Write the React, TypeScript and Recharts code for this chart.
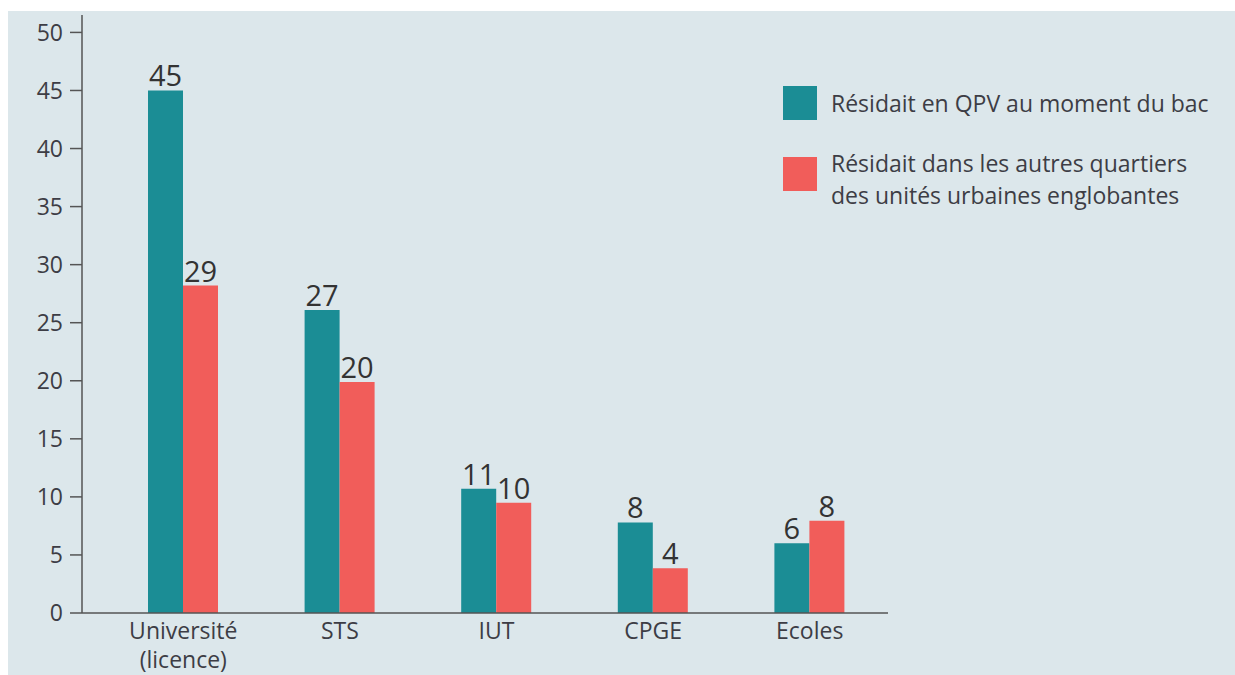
import React from "react";
import { BarChart, Bar, XAxis, YAxis, LabelList } from "recharts";

const categories = ["Université (licence)", "STS", "IUT", "CPGE", "Ecoles"];
const qpvValues = [45.0, 26.1, 10.7, 7.8, 6.0];
const autresValues = [28.2, 19.9, 9.5, 3.85, 7.95];
const qpvLabels = ["45", "27", "11", "8", "6"];
const autresLabels = ["29", "20", "10", "4", "8"];
const yTicks = [0, 5, 10, 15, 20, 25, 30, 35, 40, 45, 50];
const seriesNames = [
  "Résidait en QPV au moment du bac",
  "Résidait dans les autres quartiers des unités urbaines englobantes",
];
const legendLines = [
  ["Résidait en QPV au moment du bac"],
  ["Résidait dans les autres quartiers", "des unités urbaines englobantes"],
];

const TEAL = "#1b8d95";
const RED = "#f15d5a";
const FONT = "'Open Sans', Roboto, sans-serif";
const TEXT = "#3d3d45";

const data = categories.map((c, i) => ({
  name: c,
  qpv: qpvValues[i],
  autres: autresValues[i],
  qpvLabel: qpvLabels[i],
  autresLabel: autresLabels[i],
}));

const XTick = (props: any) => {
  const { x, y, payload } = props;
  const text: string = payload.value;
  const lines = text === "Université (licence)" ? ["Université", "(licence)"] : [text];
  return (
    <g>
      {lines.map((l, i) => (
        <text
          key={i}
          x={x}
          y={y + 22 + i * 29}
          textAnchor="middle"
          fill={TEXT}
          fontSize={23}
          fontFamily={FONT}
        >
          {l}
        </text>
      ))}
    </g>
  );
};

const colors = [TEAL, RED];
const legendTops = [75, 146];
const legendTextTops = [76, 136];

export default function App() {
  return (
    <div style={{ position: "absolute", left: 8, top: 11, width: 1227, height: 664, background: "#dce7eb" }}>
      <BarChart
        width={1227}
        height={664}
        data={data}
        margin={{ top: 4, right: 347, left: 0, bottom: 32 }}
        barGap={0}
      >
        <XAxis
          dataKey="name"
          height={30}
          tick={<XTick />}
          tickLine={false}
          tickSize={0}
          tickMargin={4}
          padding={{ left: 23, right: 0 }}
          axisLine={{ stroke: "#555", strokeWidth: 1.5 }}
          interval={0}
        />
        <YAxis
          width={74}
          domain={[0, 51.5]}
          ticks={yTicks}
          tickSize={12}
          tickMargin={7}
          axisLine={{ stroke: "#555", strokeWidth: 1.5 }}
          tickLine={{ stroke: "#555", strokeWidth: 1.5 }}
          tick={{ fill: TEXT, fontSize: 23, fontFamily: FONT }}
          allowDataOverflow
        />
        <Bar dataKey="qpv" name={seriesNames[0]} fill={TEAL} barSize={35} isAnimationActive={false}>
          <LabelList dataKey="qpvLabel" position="top" offset={4} fill="#333" fontSize={29} fontFamily={FONT} />
        </Bar>
        <Bar dataKey="autres" name={seriesNames[1]} fill={RED} barSize={35} isAnimationActive={false}>
          <LabelList dataKey="autresLabel" position="top" offset={4} fill="#333" fontSize={29} fontFamily={FONT} />
        </Bar>
      </BarChart>
      {colors.map((c, i) => (
        <React.Fragment key={i}>
          <div style={{ position: "absolute", left: 775, top: legendTops[i], width: 34, height: 34, background: c }} />
          <div
            style={{
              position: "absolute",
              left: 823,
              top: legendTextTops[i],
              fontFamily: FONT,
              fontSize: 23,
              lineHeight: "32px",
              color: TEXT,
              whiteSpace: "nowrap",
            }}
          >
            {legendLines[i].map((l, j) => (
              <div key={j}>{l}</div>
            ))}
          </div>
        </React.Fragment>
      ))}
    </div>
  );
}
